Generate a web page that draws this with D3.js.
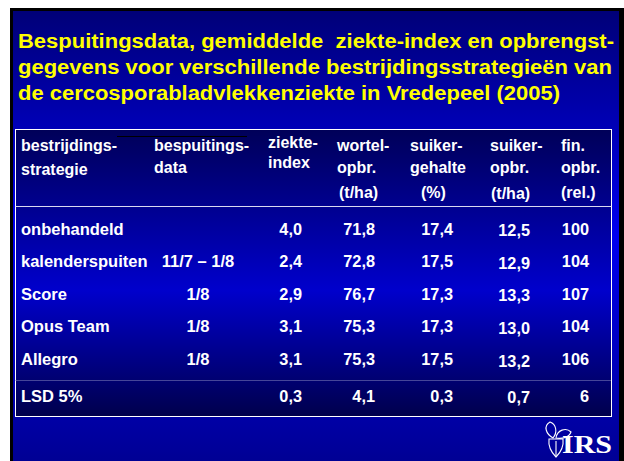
<!DOCTYPE html>
<html>
<head>
<meta charset="utf-8">
<style>
  body { margin: 0; background: #fff; }
  text { font-family: "Liberation Sans", Arial, sans-serif; font-weight: bold; white-space: pre; }
</style>
</head>
<body>
<svg width="624" height="461"></svg>
<script src="https://cdn.jsdelivr.net/npm/d3@7/dist/d3.min.js"></script>
<script>

var titleLines = [
  "Bespuitingsdata, gemiddelde  ziekte-index en opbrengst-",
  "gegevens voor verschillende bestrijdingsstrategieën van",
  "de cercosporabladvlekkenziekte in Vredepeel (2005)"
];

var headers = [
  ["bestrijdings-", "strategie"],
  ["bespuitings-", "data"],
  ["ziekte-", "index"],
  ["wortel-", "opbr.", "(t/ha)"],
  ["suiker-", "gehalte", "(%)"],
  ["suiker-", "opbr.", "(t/ha)"],
  ["fin.", "opbr.", "(rel.)"]
];

var strategies = ["onbehandeld", "kalenderspuiten", "Score", "Opus Team", "Allegro"];
var sprayDates = ["", "11/7 – 1/8", "1/8", "1/8", "1/8"];
var diseaseIndex = [4.0, 2.4, 2.9, 3.1, 3.1];
var rootYield = [71.8, 72.8, 76.7, 75.3, 75.3];
var sugarContent = [17.4, 17.5, 17.3, 17.3, 17.5];
var sugarYield = [12.5, 12.9, 13.3, 13.0, 13.2];
var financialYield = [100, 104, 107, 104, 106];

var lsdLabel = "LSD 5%";
var lsdValues = [0.3, 4.1, 0.3, 0.7, 6];

var nl = d3.formatLocale({decimal: ",", thousands: ".", grouping: [3], currency: ["€", ""]}),
    f1 = nl.format(".1f"),
    f0 = nl.format(".0f");

var svg = d3.select("svg");
var defs = svg.append("defs");

var bg = defs.append("linearGradient").attr("id", "bg")
    .attr("x1", 0).attr("y1", 0).attr("x2", 0).attr("y2", 1);
bg.append("stop").attr("offset", 0).attr("stop-color", "#000078");
bg.append("stop").attr("offset", 0.5).attr("stop-color", "#0000f0");
bg.append("stop").attr("offset", 1).attr("stop-color", "#000094");

var tg = defs.append("linearGradient").attr("id", "tbl")
    .attr("x1", 0).attr("y1", 0).attr("x2", 0).attr("y2", 1);
tg.append("stop").attr("offset", 0).attr("stop-color", "#000058");
tg.append("stop").attr("offset", 0.56).attr("stop-color", "#0000cc");
tg.append("stop").attr("offset", 1).attr("stop-color", "#00004c");

// slide
svg.append("rect").attr("x", 10).attr("y", 8).attr("width", 614).attr("height", 453).attr("fill", "#000");
svg.append("rect").attr("x", 13).attr("y", 11).attr("width", 606).attr("height", 450).attr("fill", "url(#bg)");

// title
svg.append("g").selectAll("text")
    .data(titleLines)
  .enter().append("text")
    .attr("x", 18)
    .attr("y", function(d, i) { return [48.3, 74, 100][i]; })
    .attr("fill", "#ffff00")
    .attr("font-size", 20)
    .attr("textLength", function(d, i) { return [596, 594, 542][i]; })
    .attr("lengthAdjust", "spacingAndGlyphs")
    .text(function(d) { return d; });

// table frame
var table = {x: 15.5, y: 129.5, w: 596, h: 287};
svg.append("rect")
    .attr("x", table.x).attr("y", table.y)
    .attr("width", table.w).attr("height", table.h)
    .attr("fill", "url(#tbl)")
    .attr("stroke", "#fff")
    .attr("stroke-width", 1);

svg.append("line")
    .attr("x1", table.x).attr("x2", table.x + table.w)
    .attr("y1", 206.5).attr("y2", 206.5)
    .attr("stroke", "#d8d8f0").attr("stroke-width", 1);

svg.append("line")
    .attr("x1", table.x).attr("x2", table.x + table.w)
    .attr("y1", 380.5).attr("y2", 380.5)
    .attr("stroke", "#8c8cc0").attr("stroke-width", 1)
    .attr("stroke-dasharray", "1,1");

svg.append("line")
    .attr("x1", 117).attr("x2", 247)
    .attr("y1", 136.5).attr("y2", 136.5)
    .attr("stroke", "#000").attr("stroke-width", 1);

// header
var headCols = [
  {x: 21, ys: [151, 175], dx: [0, 0]},
  {x: 154, ys: [151, 173], dx: [0, 0]},
  {x: 268, ys: [148, 168], dx: [0, 0]},
  {x: 337, ys: [151, 173, 198], dx: [0, 0, 2]},
  {x: 410, ys: [151, 173, 198], dx: [0, 0, 11]},
  {x: 490, ys: [151, 173, 199], dx: [0, 0, 1]},
  {x: 561, ys: [151, 173, 198], dx: [0, 0, 0]}
];

var head = svg.append("g").attr("fill", "#fff").attr("font-size", 16);
headers.forEach(function(lines, c) {
  head.selectAll(".h" + c)
      .data(lines)
    .enter().append("text")
      .attr("class", "h" + c)
      .attr("x", function(d, i) { return headCols[c].x + headCols[c].dx[i]; })
      .attr("y", function(d, i) { return headCols[c].ys[i]; })
      .text(function(d) { return d; });
});

// body rows
var y = d3.scalePoint().domain(strategies).range([234.5, 365]);
var lsdY = 401.7;

var valueCols = [
  {x: 302, fmt: f1, dy: 0},
  {x: 375, fmt: f1, dy: 0},
  {x: 453, fmt: f1, dy: 0},
  {x: 530, fmt: f1, dy: 1.7},
  {x: 589, fmt: f0, dy: 0}
];

var rows = strategies.map(function(s, i) {
  return {label: s, date: sprayDates[i], y: y(s),
          vals: [diseaseIndex[i], rootYield[i], sugarContent[i], sugarYield[i], financialYield[i]]};
});
rows.push({label: lsdLabel, date: "", y: lsdY, vals: lsdValues});

var row = svg.append("g").attr("fill", "#fff").attr("font-size", 16.5)
  .selectAll("g")
    .data(rows)
  .enter().append("g")
    .attr("transform", function(d) { return "translate(0," + d.y + ")"; });

row.append("text")
    .attr("x", 21)
    .text(function(d) { return d.label; });

row.append("text")
    .attr("x", 198)
    .attr("text-anchor", "middle")
    .text(function(d) { return d.date; });

row.selectAll(".v")
    .data(function(d) { return d.vals; })
  .enter().append("text")
    .attr("class", "v")
    .attr("font-size", 16.3)
    .attr("text-anchor", "end")
    .attr("x", function(d, i) { return valueCols[i].x; })
    .attr("y", function(d, i) { return valueCols[i].dy; })
    .text(function(d, i) { return valueCols[i].fmt(d); });

// IRS logo
var logo = svg.append("g").attr("fill", "none").attr("stroke", "#fff").attr("stroke-width", 1.1);
logo.append("path").attr("d", "M553,438 C546,434 543,426 550,422 C556,424 558,432 553,438 Z");
logo.append("path").attr("d", "M556,438 C557,430 566,427 571,432 C569,438 561,439 556,438 Z");
logo.append("path").attr("d", "M549,439 L563,439 C564,447 559,454 556,457 C553,454 548,447 549,439 Z");
logo.append("path").attr("d", "M556,441 L556,456");
svg.append("text")
    .attr("x", 562).attr("y", 453)
    .attr("fill", "#fff")
    .attr("font-size", 26)
    .attr("textLength", 50)
    .attr("lengthAdjust", "spacingAndGlyphs")
    .style("font-family", "'Liberation Serif', 'Times New Roman', serif")
    .style("font-weight", "bold")
    .text("IRS");

</script>
</body>
</html>
